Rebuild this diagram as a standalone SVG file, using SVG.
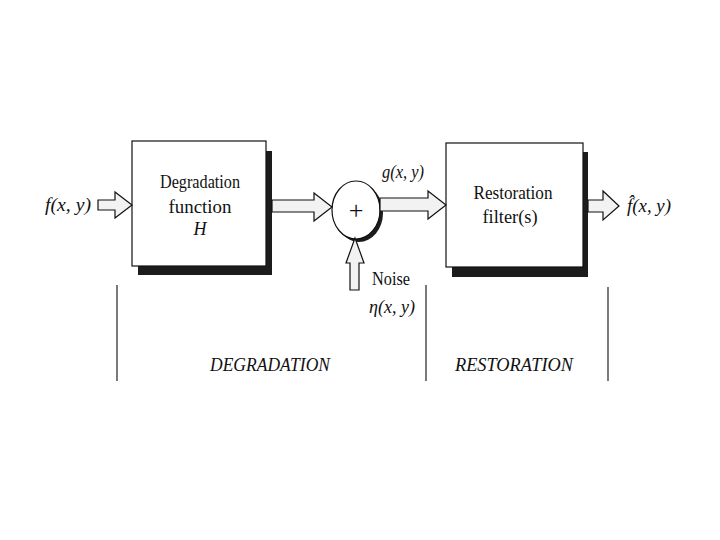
<svg xmlns="http://www.w3.org/2000/svg" width="720" height="540" viewBox="0 0 720 540">
<style>
.box{fill:#fff;stroke:#111;stroke-width:1.2}
.shadow{fill:#1c1c1c}
.arrow{fill:#f2f2f2;stroke:#111;stroke-width:1.2;stroke-linejoin:miter}
.t{font-family:"Liberation Serif","Times New Roman",serif;fill:#111}
.lbl{font-size:18px}
.math{font-size:18px;font-style:italic}
.sec{font-size:18px;font-style:italic}
.div{stroke:#222;stroke-width:1.2}
</style>
<rect width="720" height="540" fill="#fff"/>
<g id="degradation-box">
<rect class="shadow" x="138" y="151" width="134" height="124"/>
<rect class="box" x="132" y="141" width="134" height="125"/>
<text class="t lbl" x="200" y="188" text-anchor="middle" textLength="80" lengthAdjust="spacingAndGlyphs">Degradation</text>
<text class="t lbl" x="200" y="213" text-anchor="middle" textLength="63" lengthAdjust="spacingAndGlyphs">function</text>
<text class="t math" x="200" y="235" text-anchor="middle">H</text>
</g>
<g id="sum-node">
<ellipse class="shadow" cx="359" cy="213" rx="24" ry="29"/>
<ellipse class="box" cx="356" cy="210" rx="24" ry="29"/>
<text class="t" x="356" y="219" font-size="26" text-anchor="middle">+</text>
</g>
<g id="restoration-box">
<rect class="shadow" x="452" y="152" width="136" height="125"/>
<rect class="box" x="446" y="143" width="137" height="124"/>
<text class="t lbl" x="513" y="199" text-anchor="middle" textLength="79" lengthAdjust="spacingAndGlyphs">Restoration</text>
<text class="t lbl" x="510" y="223" text-anchor="middle" textLength="55" lengthAdjust="spacingAndGlyphs">filter(s)</text>
</g>
<g id="connectors">
<polygon class="arrow" points="98,200 115,200 115,192 132,205 115,218 115,210 98,210"/>
<polygon class="arrow" points="272,200 314,200 314,193 332,207 314,221 314,212 272,212"/>
<polygon class="arrow" points="380,198 428,198 428,191 446,205 428,219 428,211 380,211"/>
<polygon class="arrow" points="350,290 350,263 346,263 355,238 364,263 359,263 359,290"/>
<polygon class="arrow" points="588,200 603,200 603,191 619,206 603,220 603,212 588,212"/>
</g>
<g id="labels">
<text class="t math" x="68" y="211" text-anchor="middle" textLength="46" lengthAdjust="spacingAndGlyphs">f(x, y)</text>
<text class="t math" x="403" y="178" text-anchor="middle" textLength="42" lengthAdjust="spacingAndGlyphs">g(x, y)</text>
<text class="t lbl" x="372" y="285" textLength="38" lengthAdjust="spacingAndGlyphs">Noise</text>
<text class="t math" x="392" y="313" text-anchor="middle" textLength="46" lengthAdjust="spacingAndGlyphs">η(x, y)</text>
<text class="t math" x="649" y="212" text-anchor="middle" textLength="44" lengthAdjust="spacingAndGlyphs">f̂(x, y)</text>
</g>
<g id="sections">
<line class="div" x1="117" y1="285" x2="117" y2="381"/>
<line class="div" x1="426" y1="285" x2="426" y2="381"/>
<line class="div" x1="608" y1="287" x2="608" y2="381"/>
<text class="t sec" x="270" y="371" text-anchor="middle" textLength="120" lengthAdjust="spacingAndGlyphs">DEGRADATION</text>
<text class="t sec" x="514" y="371" text-anchor="middle" textLength="118" lengthAdjust="spacingAndGlyphs">RESTORATION</text>
</g>
</svg>
